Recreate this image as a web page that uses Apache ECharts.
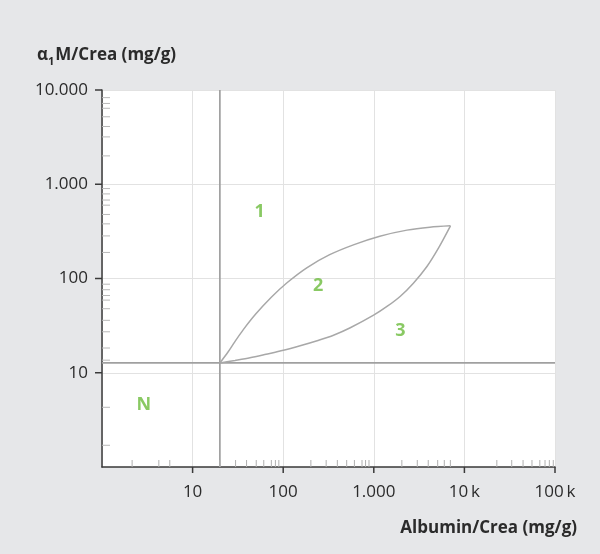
<!DOCTYPE html>
<html><head><meta charset="utf-8">
<script src="https://cdn.jsdelivr.net/npm/echarts@6/dist/echarts.min.js"></script>
<style>html,body{margin:0;padding:0;background:#e6e7e9;}#c{width:600px;height:554px;}</style>
</head><body><div id="c"></div>
<script>
// ---- data ----
const xMin = 1, xMax = 100000, yMin = 1, yMax = 10000;
const xMajor = [10, 100, 1000, 10000, 100000];
const xMajorLabels = ['10', '100', '1.000', '10\u2009k', '100\u2009k'];
const yMajor = [10, 100, 1000, 10000];
const yMajorLabels = ['10', '100', '1.000', '10.000'];
const xMinor = [2.15, 4.24, 5.6, 20, 29.8, 39.4, 50.4, 61, 74, 82, 89.5,
  202, 298, 396, 502, 611, 741, 811, 885,
  2040, 3020, 3990, 5070, 6000, 7000,
  22800, 33300, 44400, 55700, 68000, 77600, 86600, 95700];
const yMinor = [1.7, 4.3, 13.6, 18.3, 27.2, 36, 47.8, 59, 66, 76, 87,
  189, 283, 380, 478, 600, 680, 790, 900,
  2000, 3180, 4100, 5200, 6400, 7200, 8300];
const albuminLimit = 20;
const a1mLimit = 12.7;
const upperX = [20, 24.6, 29.2, 36.3, 50, 73.9, 111, 182, 326, 606, 1165, 2324, 4153, 7020];
const upperY = [12.7, 16.6, 21.3, 28.7, 42.2, 63.3, 90.7, 130, 179, 229, 281, 326, 350, 362];
const lowerX = [20, 29.4, 43, 64.7, 100.5, 153.8, 237, 359, 550, 995, 1411, 1964, 2735, 3877, 5170, 7020];
const lowerY = [12.7, 13.5, 14.4, 15.7, 17.3, 19.35, 21.9, 25.0, 30.0, 40.8, 50.8, 64.9, 89.2, 135, 210, 362];
const regionLabels = ['1', '2', '3', 'N'];
const regionX = [55, 243, 1960, 2.9];
const regionY = [505, 83, 27.6, 4.52];
const yTitle = 'α{s|1}M/Crea (mg/g)';
const xTitle = 'Albumin/Crea (mg/g)';

// ---- chart ----
const FONT = '"Open Sans", sans-serif';
const TXT = '#2b2b2b';
const chart = echarts.init(document.getElementById('c'), null, {renderer: 'canvas'});

function lookup(vals, labels) {
  return function (v) {
    for (let i = 0; i < vals.length; i++) {
      if (Math.abs(v - vals[i]) / vals[i] < 1e-6) return labels[i];
    }
    return '';
  };
}

function tickSeries(vals, axis, len, color, width) {
  return {
    type: 'custom', silent: true, clip: false, z: 6,
    data: vals.map(v => axis === 'x' ? [v, yMin] : [xMin, v]),
    renderItem: function (params, api) {
      const p = api.coord([api.value(0), api.value(1)]);
      const shape = axis === 'x'
        ? {x1: p[0], y1: p[1], x2: p[0], y2: p[1] + len}
        : {x1: p[0], y1: p[1], x2: p[0] + len, y2: p[1]};
      return {type: 'line', shape: shape, style: {stroke: color, lineWidth: width}};
    }
  };
}

const axisCommon = {
  type: 'log', logBase: 10,
  axisLine: {show: true, lineStyle: {color: '#3a3a3a', width: 1.5}},
  axisTick: {show: false},
  minorTick: {show: false},
  splitLine: {show: true, lineStyle: {color: '#e2e2e2', width: 1}},
};

const option = {
  backgroundColor: '#e6e7e9',
  animation: false,
  title: [
    {text: yTitle, left: 32, top: 42,
      textStyle: {fontFamily: FONT, fontSize: 17, fontWeight: 'bold', color: TXT,
        rich: {s: {fontFamily: FONT, fontSize: 11, fontWeight: 'bold', color: TXT, verticalAlign: 'bottom', padding: [0, 1, -3, 0]}}}},
    {text: xTitle, right: 18, top: 515,
      textStyle: {fontFamily: FONT, fontSize: 17, fontWeight: 'bold', color: TXT}}
  ],
  grid: {left: 102, right: 45, top: 90, bottom: 87, show: true, backgroundColor: '#ffffff', borderWidth: 0},
  xAxis: Object.assign({}, axisCommon, {
    min: xMin, max: xMax,
    axisLabel: {formatter: lookup(xMajor, xMajorLabels), margin: 17, fontSize: 17, fontFamily: FONT, color: TXT, showMinLabel: true, showMaxLabel: true}
  }),
  yAxis: Object.assign({}, axisCommon, {
    min: yMin, max: yMax,
    axisLabel: {formatter: lookup(yMajor, yMajorLabels), margin: 14, fontSize: 17, fontFamily: FONT, color: TXT, showMinLabel: true, showMaxLabel: true}
  }),
  series: [
    {type: 'line', data: [[albuminLimit, yMin], [albuminLimit, yMax]], symbol: 'none', silent: true,
      lineStyle: {color: '#a0a0a0', width: 1.7}, z: 3},
    {type: 'line', data: [[xMin, a1mLimit], [xMax, a1mLimit]], symbol: 'none', silent: true,
      lineStyle: {color: '#a0a0a0', width: 1.7}, z: 3},
    {type: 'line', data: upperX.map((x, i) => [x, upperY[i]]), symbol: 'none', smooth: 0.3, silent: true,
      lineStyle: {color: '#a8a8a8', width: 1.5}, z: 3},
    {type: 'line', data: lowerX.map((x, i) => [x, lowerY[i]]), symbol: 'none', smooth: 0.3, silent: true,
      lineStyle: {color: '#a8a8a8', width: 1.5}, z: 3},
    {type: 'scatter', data: regionX.map((x, i) => [x, regionY[i], regionLabels[i]]), symbolSize: 1,
      itemStyle: {color: 'rgba(0,0,0,0)'}, silent: true, z: 4,
      label: {show: true, position: 'inside', formatter: p => p.data[2], fontFamily: FONT, fontSize: 18, fontWeight: 'bold', color: '#6cbb3c'}},
    tickSeries(xMinor, 'x', -7, '#b0b0b0', 1),
    tickSeries(yMinor, 'y', 8, '#b8b8b8', 1),
    tickSeries(xMajor, 'x', 6, '#3a3a3a', 1.5),
    tickSeries(yMajor, 'y', -7, '#3a3a3a', 1.5)
  ]
};
chart.setOption(option);
</script>
</body></html>
